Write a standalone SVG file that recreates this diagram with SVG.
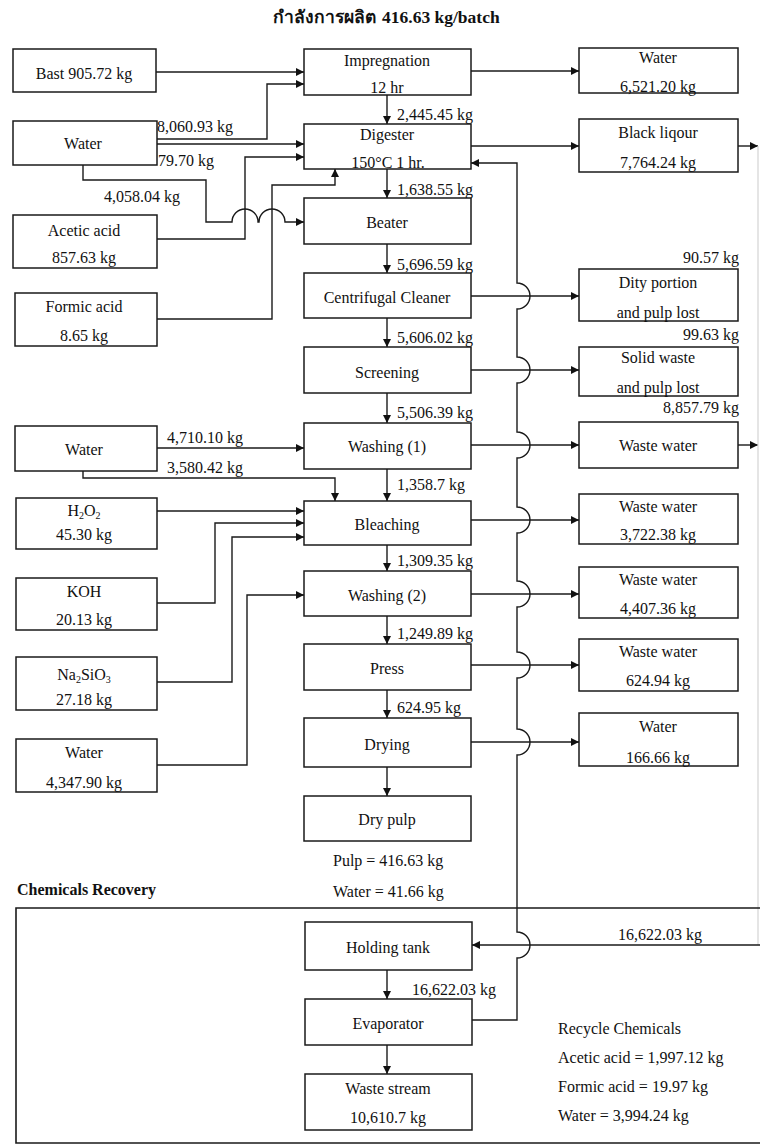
<svg xmlns="http://www.w3.org/2000/svg" width="760" height="1146" viewBox="0 0 760 1146">
<style>
.box{fill:#fff;stroke:#1a1a1a;stroke-width:1.5}
.ln{fill:none;stroke:#1a1a1a;stroke-width:1.4}
.faint{fill:none;stroke:#d4d4d4;stroke-width:1.2}
text{font-family:"Liberation Serif","Times New Roman",serif;font-size:16px;fill:#111}
.c{text-anchor:middle}
.r{text-anchor:end}
.b{font-weight:bold}
.sub{font-size:10px}
</style>
<defs>
<marker id="ah" viewBox="0 0 10 10" refX="10" refY="5" markerWidth="9" markerHeight="8" markerUnits="userSpaceOnUse" orient="auto"><path d="M0,0 L10,5 L0,10 z" fill="#111"/></marker>
</defs>
<rect width="760" height="1146" fill="#fff"/>
<text id="title" class="b" x="273" y="23" style="font-size:17.5px"><tspan font-family="'Noto Sans','DejaVu Sans',sans-serif">กำลังการผลิต</tspan><tspan x="382">416.63 kg/batch</tspan></text>

<g id="connectors">
<!-- main column -->
<path class="ln" marker-end="url(#ah)" d="M387,95 V124"/>
<path class="ln" marker-end="url(#ah)" d="M387,169 V198"/>
<path class="ln" marker-end="url(#ah)" d="M387,244 V273"/>
<path class="ln" marker-end="url(#ah)" d="M387,318 V347"/>
<path class="ln" marker-end="url(#ah)" d="M387,393 V423"/>
<path class="ln" marker-end="url(#ah)" d="M387,469 V501"/>
<path class="ln" marker-end="url(#ah)" d="M387,545 V571"/>
<path class="ln" marker-end="url(#ah)" d="M387,616 V644"/>
<path class="ln" marker-end="url(#ah)" d="M387,690 V718"/>
<path class="ln" marker-end="url(#ah)" d="M387,767 V796"/>
<path class="ln" marker-end="url(#ah)" d="M387,970 V999"/>
<path class="ln" marker-end="url(#ah)" d="M387,1045 V1074"/>
<!-- left inputs -->
<path class="ln" marker-end="url(#ah)" d="M156,72 H304"/>
<path class="ln" marker-end="url(#ah)" d="M157,139 H267 V84 H304"/>
<path class="ln" marker-end="url(#ah)" d="M157,144 H304"/>
<path class="ln" marker-end="url(#ah)" d="M157,239 H245 V157 H304"/>
<path class="ln" marker-end="url(#ah)" d="M157,319 H272 V185 H335 V169"/>
<path class="ln" marker-end="url(#ah)" d="M83,165 V180 H206 V222 H232 A13,13 0 0 1 258,222 H259 A13,13 0 0 1 285,222 H304"/>
<path class="ln" marker-end="url(#ah)" d="M157,448 H304"/>
<path class="ln" marker-end="url(#ah)" d="M83,471 V478 H335 V501"/>
<path class="ln" marker-end="url(#ah)" d="M157,511 H304"/>
<path class="ln" marker-end="url(#ah)" d="M157,603 H215 V523 H304"/>
<path class="ln" marker-end="url(#ah)" d="M157,682 H232 V537 H304"/>
<path class="ln" marker-end="url(#ah)" d="M157,765 H247 V595 H304"/>
<!-- right outputs -->
<path class="ln" marker-end="url(#ah)" d="M471,71 H579"/>
<path class="ln" marker-end="url(#ah)" d="M471,146 H579"/>
<path class="ln" marker-end="url(#ah)" d="M471,296 H579"/>
<path class="ln" marker-end="url(#ah)" d="M471,370 H579"/>
<path class="ln" marker-end="url(#ah)" d="M471,445 H579"/>
<path class="ln" marker-end="url(#ah)" d="M471,520 H579"/>
<path class="ln" marker-end="url(#ah)" d="M471,594 H579"/>
<path class="ln" marker-end="url(#ah)" d="M471,665 H579"/>
<path class="ln" marker-end="url(#ah)" d="M471,742 H579"/>
<path class="ln" marker-end="url(#ah)" d="M738,146 H758"/>
<path class="ln" marker-end="url(#ah)" d="M738,445 H758"/>
<path class="faint" d="M758,146 V945"/>
<path class="ln" marker-end="url(#ah)" d="M760,945 H472"/>
<!-- recycle line -->
<path class="ln" marker-end="url(#ah)" d="M472,1020 H517 V958 A13,13 0 0 0 517,932 V755 A13,13 0 0 0 517,729 V678 A13,13 0 0 0 517,652 V607 A13,13 0 0 0 517,581 V533 A13,13 0 0 0 517,507 V458 A13,13 0 0 0 517,432 V383 A13,13 0 0 0 517,357 V309 A13,13 0 0 0 517,283 V163 H471"/>
<!-- recovery frame -->
<path class="ln" d="M760,908 H16 V1143 H760" style="stroke-width:1.6"/>
</g>

<g id="flow-labels">
<text x="157" y="132">8,060.93 kg</text>
<text x="158" y="166">79.70 kg</text>
<text x="104" y="202">4,058.04 kg</text>
<text x="167" y="443">4,710.10 kg</text>
<text x="167" y="473">3,580.42 kg</text>
<text x="397" y="120">2,445.45 kg</text>
<text x="397" y="195">1,638.55 kg</text>
<text x="397" y="270">5,696.59 kg</text>
<text x="397" y="343">5,606.02 kg</text>
<text x="397" y="418">5,506.39 kg</text>
<text x="397" y="490">1,358.7 kg</text>
<text x="397" y="566">1,309.35 kg</text>
<text x="397" y="639">1,249.89 kg</text>
<text x="397" y="713">624.95 kg</text>
<text class="r" x="739" y="263">90.57 kg</text>
<text class="r" x="739" y="340">99.63 kg</text>
<text class="r" x="739" y="413">8,857.79 kg</text>
<text x="333" y="866">Pulp = 416.63 kg</text>
<text x="333" y="897">Water = 41.66 kg</text>
<text class="b" x="17" y="895">Chemicals Recovery</text>
<text x="618" y="940">16,622.03 kg</text>
<text x="412" y="995">16,622.03  kg</text>
<text x="558" y="1034">Recycle Chemicals</text>
<text x="558" y="1063">Acetic acid = 1,997.12 kg</text>
<text x="558" y="1092">Formic acid = 19.97 kg</text>
<text x="558" y="1121">Water = 3,994.24 kg</text>
</g>

<g id="bast"><rect class="box" x="13" y="49" width="143" height="43"/><text class="c" x="84" y="79">Bast 905.72 kg</text></g>
<g id="water1"><rect class="box" x="13" y="121" width="144" height="44"/><text class="c" x="83" y="149">Water</text></g>
<g id="acetic"><rect class="box" x="13" y="215" width="144" height="53"/><text class="c" x="84" y="236">Acetic acid</text><text class="c" x="84" y="263">857.63 kg</text></g>
<g id="formic"><rect class="box" x="15" y="293" width="142" height="53"/><text class="c" x="84" y="312">Formic acid</text><text class="c" x="84" y="341">8.65 kg</text></g>
<g id="water2"><rect class="box" x="15" y="426" width="142" height="45"/><text class="c" x="84" y="455">Water</text></g>
<g id="h2o2"><rect class="box" x="16" y="498" width="141" height="51"/><text class="c" x="84" y="516">H<tspan class="sub" dy="3">2</tspan><tspan dy="-3">O</tspan><tspan class="sub" dy="3">2</tspan></text><text class="c" x="84" y="540">45.30 kg</text></g>
<g id="koh"><rect class="box" x="16" y="578" width="141" height="52"/><text class="c" x="84" y="597">KOH</text><text class="c" x="84" y="625">20.13 kg</text></g>
<g id="na2sio3"><rect class="box" x="16" y="657" width="141" height="53"/><text class="c" x="84" y="680">Na<tspan class="sub" dy="3">2</tspan><tspan dy="-3">SiO</tspan><tspan class="sub" dy="3">3</tspan></text><text class="c" x="84" y="705">27.18 kg</text></g>
<g id="water3"><rect class="box" x="16" y="739" width="141" height="53"/><text class="c" x="84" y="758">Water</text><text class="c" x="84" y="788">4,347.90 kg</text></g>

<g id="impregnation"><rect class="box" x="304" y="49" width="167" height="46"/><text class="c" x="387" y="66">Impregnation</text><text class="c" x="387" y="93">12 hr</text></g>
<g id="digester"><rect class="box" x="304" y="124" width="167" height="45"/><text class="c" x="387" y="140">Digester</text><text class="c" x="388" y="168">150°C 1 hr.</text></g>
<g id="beater"><rect class="box" x="304" y="198" width="167" height="46"/><text class="c" x="387" y="228">Beater</text></g>
<g id="centrifugal"><rect class="box" x="304" y="273" width="167" height="45"/><text class="c" x="387" y="303">Centrifugal Cleaner</text></g>
<g id="screening"><rect class="box" x="304" y="347" width="167" height="46"/><text class="c" x="387" y="378">Screening</text></g>
<g id="washing1"><rect class="box" x="304" y="423" width="167" height="46"/><text class="c" x="387" y="452">Washing (1)</text></g>
<g id="bleaching"><rect class="box" x="304" y="501" width="167" height="44"/><text class="c" x="387" y="530">Bleaching</text></g>
<g id="washing2"><rect class="box" x="304" y="571" width="167" height="45"/><text class="c" x="387" y="601">Washing (2)</text></g>
<g id="press"><rect class="box" x="304" y="644" width="167" height="46"/><text class="c" x="387" y="674">Press</text></g>
<g id="drying"><rect class="box" x="304" y="718" width="167" height="49"/><text class="c" x="387" y="750">Drying</text></g>
<g id="drypulp"><rect class="box" x="304" y="796" width="167" height="45"/><text class="c" x="387" y="825">Dry pulp</text></g>
<g id="holding"><rect class="box" x="305" y="922" width="167" height="48"/><text class="c" x="388" y="953">Holding tank</text></g>
<g id="evaporator"><rect class="box" x="305" y="999" width="167" height="46"/><text class="c" x="388" y="1029">Evaporator</text></g>
<g id="wastestream"><rect class="box" x="305" y="1074" width="167" height="56"/><text class="c" x="388" y="1094">Waste stream</text><text class="c" x="388" y="1123">10,610.7 kg</text></g>

<g id="out-water"><rect class="box" x="579" y="48" width="159" height="45"/><text class="c" x="658" y="63">Water</text><text class="c" x="658" y="92">6,521.20 kg</text></g>
<g id="out-black"><rect class="box" x="579" y="119" width="159" height="53"/><text class="c" x="658" y="138">Black liqour</text><text class="c" x="658" y="168">7,764.24 kg</text></g>
<g id="out-dity"><rect class="box" x="579" y="269" width="159" height="52"/><text class="c" x="658" y="288">Dity portion</text><text class="c" x="658" y="318">and pulp lost</text></g>
<g id="out-solid"><rect class="box" x="579" y="347" width="159" height="49"/><text class="c" x="658" y="363">Solid waste</text><text class="c" x="658" y="393">and pulp lost</text></g>
<g id="out-ww1"><rect class="box" x="579" y="422" width="159" height="46"/><text class="c" x="658" y="451">Waste water</text></g>
<g id="out-ww2"><rect class="box" x="579" y="494" width="159" height="50"/><text class="c" x="658" y="512">Waste water</text><text class="c" x="658" y="540">3,722.38 kg</text></g>
<g id="out-ww3"><rect class="box" x="579" y="567" width="159" height="51"/><text class="c" x="658" y="585">Waste water</text><text class="c" x="658" y="614">4,407.36 kg</text></g>
<g id="out-ww4"><rect class="box" x="579" y="639" width="159" height="52"/><text class="c" x="658" y="657">Waste water</text><text class="c" x="658" y="686">624.94 kg</text></g>
<g id="out-water2"><rect class="box" x="579" y="713" width="159" height="53"/><text class="c" x="658" y="732">Water</text><text class="c" x="658" y="763">166.66 kg</text></g>
</svg>
